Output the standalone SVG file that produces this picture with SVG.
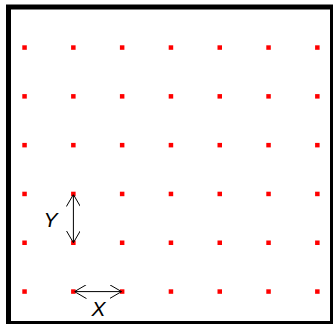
<svg xmlns="http://www.w3.org/2000/svg" width="333" height="324" viewBox="0 0 333 324">
<defs>
<style>
.dot{fill:#ff0000}
.arr{stroke:#000;stroke-width:1;fill:none}
.lbl{font-family:"Liberation Sans",Arial,sans-serif;font-style:italic;font-size:21px;fill:#000;text-anchor:middle}
</style>
<marker id="ah" viewBox="0 0 12 14" refX="12" refY="7" markerWidth="12" markerHeight="14" markerUnits="userSpaceOnUse" orient="auto-start-reverse">
<path d="M0,0 L12,7 L0,14" stroke="#000" stroke-width="1" fill="none"/>
</marker>
</defs>
<rect width="333" height="324" fill="#fff"/>
<rect id="frame" x="8.5" y="7" width="324" height="316.5" fill="none" stroke="#000" stroke-width="5"/>
<g id="dots">
<g id="row0">
<rect class="dot" x="22.3" y="45.3" width="4.5" height="4.5"/><rect class="dot" x="71.1" y="45.3" width="4.5" height="4.5"/><rect class="dot" x="119.9" y="45.3" width="4.5" height="4.5"/><rect class="dot" x="168.7" y="45.3" width="4.5" height="4.5"/><rect class="dot" x="217.5" y="45.3" width="4.5" height="4.5"/><rect class="dot" x="266.3" y="45.3" width="4.5" height="4.5"/><rect class="dot" x="315.1" y="45.3" width="4.5" height="4.5"/>
</g>
<g id="row1">
<rect class="dot" x="22.3" y="94.1" width="4.5" height="4.5"/><rect class="dot" x="71.1" y="94.1" width="4.5" height="4.5"/><rect class="dot" x="119.9" y="94.1" width="4.5" height="4.5"/><rect class="dot" x="168.7" y="94.1" width="4.5" height="4.5"/><rect class="dot" x="217.5" y="94.1" width="4.5" height="4.5"/><rect class="dot" x="266.3" y="94.1" width="4.5" height="4.5"/><rect class="dot" x="315.1" y="94.1" width="4.5" height="4.5"/>
</g>
<g id="row2">
<rect class="dot" x="22.3" y="142.9" width="4.5" height="4.5"/><rect class="dot" x="71.1" y="142.9" width="4.5" height="4.5"/><rect class="dot" x="119.9" y="142.9" width="4.5" height="4.5"/><rect class="dot" x="168.7" y="142.9" width="4.5" height="4.5"/><rect class="dot" x="217.5" y="142.9" width="4.5" height="4.5"/><rect class="dot" x="266.3" y="142.9" width="4.5" height="4.5"/><rect class="dot" x="315.1" y="142.9" width="4.5" height="4.5"/>
</g>
<g id="row3">
<rect class="dot" x="22.3" y="191.7" width="4.5" height="4.5"/><rect class="dot" x="71.1" y="191.7" width="4.5" height="4.5"/><rect class="dot" x="119.9" y="191.7" width="4.5" height="4.5"/><rect class="dot" x="168.7" y="191.7" width="4.5" height="4.5"/><rect class="dot" x="217.5" y="191.7" width="4.5" height="4.5"/><rect class="dot" x="266.3" y="191.7" width="4.5" height="4.5"/><rect class="dot" x="315.1" y="191.7" width="4.5" height="4.5"/>
</g>
<g id="row4">
<rect class="dot" x="22.3" y="240.5" width="4.5" height="4.5"/><rect class="dot" x="71.1" y="240.5" width="4.5" height="4.5"/><rect class="dot" x="119.9" y="240.5" width="4.5" height="4.5"/><rect class="dot" x="168.7" y="240.5" width="4.5" height="4.5"/><rect class="dot" x="217.5" y="240.5" width="4.5" height="4.5"/><rect class="dot" x="266.3" y="240.5" width="4.5" height="4.5"/><rect class="dot" x="315.1" y="240.5" width="4.5" height="4.5"/>
</g>
<g id="row5">
<rect class="dot" x="22.3" y="289.3" width="4.5" height="4.5"/><rect class="dot" x="71.1" y="289.3" width="4.5" height="4.5"/><rect class="dot" x="119.9" y="289.3" width="4.5" height="4.5"/><rect class="dot" x="168.7" y="289.3" width="4.5" height="4.5"/><rect class="dot" x="217.5" y="289.3" width="4.5" height="4.5"/><rect class="dot" x="266.3" y="289.3" width="4.5" height="4.5"/><rect class="dot" x="315.1" y="289.3" width="4.5" height="4.5"/>
</g>
</g>
<g id="connectors">
<line class="arr" x1="73.4" y1="194.5" x2="73.4" y2="242.7" marker-start="url(#ah)" marker-end="url(#ah)"/>
<line class="arr" x1="74.5" y1="291.6" x2="121.5" y2="291.6" marker-start="url(#ah)" marker-end="url(#ah)"/>
</g>
<g id="labels">
<text class="lbl" x="50.5" y="227">Y</text>
<text class="lbl" x="98.5" y="316">X</text>
</g>
</svg>
